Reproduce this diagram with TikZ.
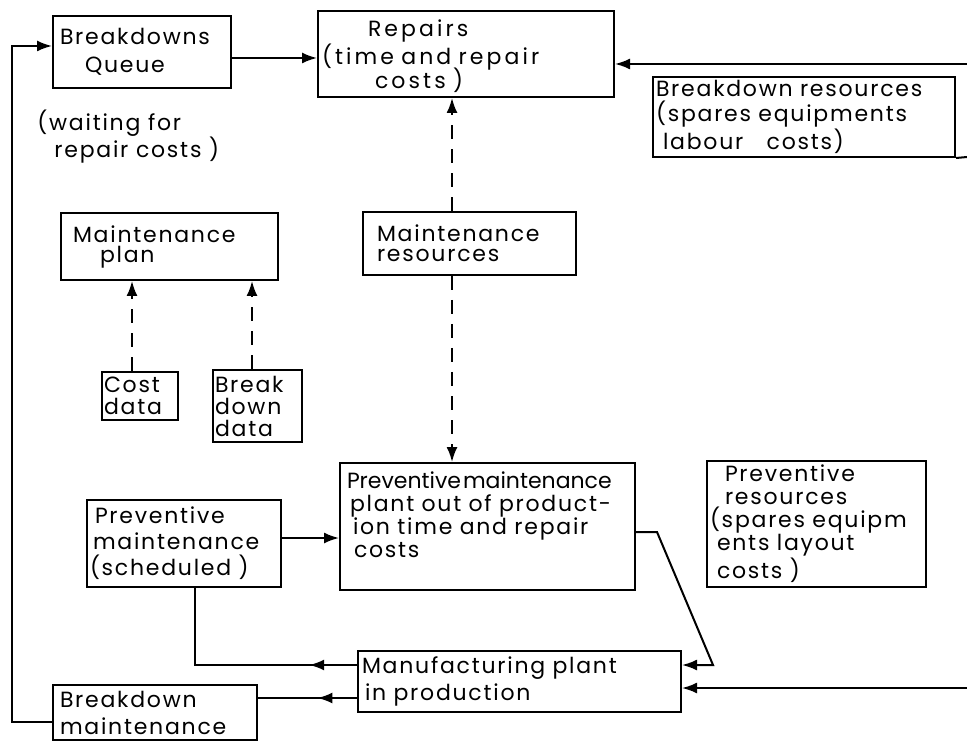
\documentclass[tikz,border=0pt]{standalone}
\usepackage{fontspec}
\setmainfont{Poppins}[LetterSpace=8]
\usetikzlibrary{arrows.meta,decorations.markings}

\tikzset{
  box/.style={draw, line width=1pt, inner ysep=0pt, align=left},
  fs/.style={font=\fontsize{11pt}{#1}\selectfont},
  conn/.style={line width=1pt},
  tip/.style={-{Latex[length=7.5pt,width=5.5pt]}},
  dashconn/.style={conn, dash pattern=on 7pt off 5pt},
  midtip/.style={postaction={decorate},
    decoration={markings,
      mark=at position #1 with {\arrow{Latex[length=7.5pt,width=5.5pt]}}}},
}

\begin{document}
\begin{tikzpicture}[x=0.5pt,y=-0.5pt]
\useasboundingbox (0,0) rectangle (967,742);

% ---- boxes ----
\node[box, fs=14pt, minimum width=89pt, minimum height=36pt, text width=82pt, inner xsep=3.5pt]
  (queue) at (142,52) {Breakdowns\\\hspace*{12.5pt}Queue};
\node[box, fs=13pt, minimum width=148pt, minimum height=43pt, text width=144pt, inner xsep=2pt]
  (repairs) at (466,54) {\addfontfeature{LetterSpace=14}\rule{0pt}{10.5pt}\hspace*{23pt}Repairs\\(time and repair\\[-2pt]\hspace*{26.5pt}costs )};
\node[box, fs=12.5pt, minimum width=151pt, minimum height=40pt, text width=148pt, inner xsep=1.5pt]
  (bres) at (804,117) {Breakdown resources\\(spares equipments\\\hspace*{3.5pt}labour\hspace{8pt} costs)};
\node[fs=13.5pt, inner sep=0pt, anchor=north west, align=left]
  (waiting) at (37,110) {(waiting for\\\hspace*{8.5pt}repair costs )};
\node[box, fs=10pt, minimum width=108.5pt, minimum height=33.5pt, text width=96.5pt, inner xsep=6pt]
  (plan) at (169.5,246.5) {Maintenance\\\hspace*{13.5pt}plan};
\node[box, fs=10pt, minimum width=106.5pt, minimum height=31.5pt, text width=92.5pt, inner xsep=7pt]
  (mres) at (469.5,243.5) {Maintenance\\resources};
\node[box, fs=11pt, minimum width=38pt, minimum height=24pt, text width=36pt, inner xsep=1pt]
  (cost) at (140,396) {Cost\\data};
\node[box, fs=11pt, minimum width=44.5pt, minimum height=36pt, text width=42.5pt, inner xsep=1pt]
  (bdata) at (257.5,406) {Break\\down\\data};
\node[box, fs=11.5pt, minimum width=147.5pt, minimum height=63.5pt, text width=140.5pt, inner xsep=3.5pt]
  (pmp) at (487.5,526.5) {{\addfontfeature{LetterSpace=0}Preventive\hspace{1pt}maintenance}\\\hspace*{1.5pt}plant out of product-\\\hspace*{3pt}ion time and repair\\\hspace*{3.5pt}costs\\\mbox{}};
\node[box, fs=13pt, minimum width=97pt, minimum height=43.5pt, text width=94pt, inner xsep=1.5pt]
  (pms) at (184,543.5) {\hspace*{2.5pt}Preventive\\\hspace*{1.5pt}maintenance\\(scheduled )};
\node[box, fs=11.5pt, minimum width=109.5pt, minimum height=63pt, text width=106.5pt, inner xsep=1.5pt]
  (pres) at (816.5,524) {\hspace*{7.5pt}Preventive\\\hspace*{7.5pt}resources\\(spares equipm\\\hspace*{3.5pt}ents layout\\\hspace*{3.5pt}costs )};
\node[box, fs=13.5pt, minimum width=161.5pt, minimum height=30.5pt, text width=157.5pt, inner xsep=2pt]
  (mfg) at (519.5,681.5) {Manufacturing plant\\\hspace*{1.5pt}in production};
\node[box, fs=13.5pt, minimum width=102pt, minimum height=27.5pt, text width=95pt, inner xsep=3.5pt]
  (bm) at (155,712.5) {Breakdown\\maintenance};

% ---- helper coordinates for connector levels ----
\coordinate (yq) at (0,58);
\coordinate (yin) at (0,46);
\coordinate (yloop) at (0,722);
\coordinate (xloop) at (12,0);
\coordinate (xdash) at (452,0);
\coordinate (xcost) at (132,0);
\coordinate (xbdata) at (252,0);
\coordinate (ypm) at (0,538);
\coordinate (ypmp) at (0,532);
\coordinate (k1) at (657,532);
\coordinate (k2) at (713,665);
\coordinate (yup) at (0,665);
\coordinate (ylow) at (0,698);
\coordinate (xpms) at (195,0);
\coordinate (rtop) at (967,64);
\coordinate (rbot) at (967,157);
\coordinate (rmfg) at (967,688);

% ---- connectors ----
\draw[conn, tip] (queue.east |- yq) -- (repairs.west |- yq);
\draw[conn, tip] (rtop) -- (repairs.east |- rtop);
\draw[conn] (bres.south east) -- (rbot);
\draw[dashconn, tip] (mres.north -| xdash) -- (repairs.south -| xdash);
\draw[dashconn, tip] (mres.south -| xdash) -- (pmp.north -| xdash);
\draw[dashconn, tip] (cost.north -| xcost) -- (plan.south -| xcost);
\draw[dashconn, tip] (bdata.north -| xbdata) -- (plan.south -| xbdata);
\draw[conn, tip] (pms.east |- ypm) -- (pmp.west |- ypm);
\draw[conn, tip] (pmp.east |- ypmp) -- (k1) -- (k2) -- (mfg.east |- k2);
\draw[conn, tip] (rmfg) -- (mfg.east |- rmfg);
\draw[conn, midtip=0.2] (mfg.west |- yup) -- (xpms |- yup) -- (pms.south -| xpms);
\draw[conn, midtip=0.4] (mfg.west |- ylow) -- (bm.east |- ylow);
\draw[conn, tip] (bm.west |- yloop) -- (xloop |- yloop) -- (xloop |- yin) -- (queue.west |- yin);
\end{tikzpicture}
\end{document}
